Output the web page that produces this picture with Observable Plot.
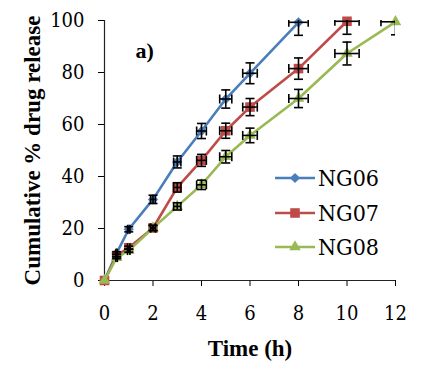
<!DOCTYPE html>
<html><head><meta charset="utf-8">
<script src="https://cdn.jsdelivr.net/npm/d3@7"></script>
<script src="https://cdn.jsdelivr.net/npm/@observablehq/plot@0.6"></script>
<style>
body{margin:0;background:#fff;}
#wrap{position:relative;width:425px;height:372px;font-family:"DejaVu Serif Condensed","DejaVu Serif",serif;}
#legend{position:absolute;left:275px;top:161px;}
.item{display:flex;align-items:center;height:34.5px;font-size:23px;color:#000;font-family:"DejaVu Serif Condensed","DejaVu Serif";}
.item svg{display:block;}
#wrap svg g[aria-label$="tick label"], #wrap svg g[aria-label$="tick label"] text,
#wrap svg g[aria-label="x-axis"] text, #wrap svg g[aria-label="y-axis"] text{
  font-family:"DejaVu Serif Condensed","DejaVu Serif",serif !important;
}
</style></head><body><div id="wrap"></div>
<script>
// ---- data ----
const times   = [0, 0.5, 1, 2, 3, 4, 5, 6, 8, 10, 12];
const timeErr = [0, 0.03, 0.05, 0.1, 0.15, 0.2, 0.25, 0.3, 0.4, 0.5, 0.6];
const seriesNames = ["NG06", "NG07", "NG08"];
const ng06 = [0, 10.5, 19.7, 31.2, 45.6, 57.5, 69.8, 79.7, 99.3];
const ng07 = [0, 9.6, 12.6, 20.2, 35.8, 46.2, 57.6, 66.7, 81.5, 99.7];
const ng08 = [0, 8.8, 11.5, 20.2, 28.5, 36.8, 47.6, 55.8, 70.0, 87.3, 99.5];
const ng06Err = [0, 0.5, 1.0, 1.6, 2.3, 2.9, 3.5, 4.0, 5.0];
const ng07Err = [0, 0.5, 0.6, 1.0, 1.8, 2.3, 2.9, 3.3, 4.1, 5.0];
const ng08Err = [0, 0.4, 0.6, 1.0, 1.4, 1.8, 2.4, 2.8, 3.5, 4.4, 5.0];
const xTicks = [0, 2, 4, 6, 8, 10, 12];
const yTicks = [0, 20, 40, 60, 80, 100];
const xTitle = "Time (h)";
const yTitle = "Cumulative % drug release";
const panelLabel = "a)";

// ---- styles ----
const FONT = '"DejaVu Serif Condensed","DejaVu Serif",serif';
const BOLDFONT = '"Liberation Serif",serif';
const colors = ["#4a7ebb", "#be4b48", "#98b954"];
const symbolNames = ["diamond2", "square", "triangle"];
const d3Symbols = [d3.symbolDiamond2, d3.symbolSquare, d3.symbolTriangle];
const markerR = [4.6, 5.4, 4.3];

const values = [ng06, ng07, ng08];
const errs = [ng06Err, ng07Err, ng08Err];
const rows = [];
seriesNames.forEach((s, k) => {
  values[k].forEach((v, i) => rows.push({series: s, k, t: times[i], te: timeErr[i], v, ve: errs[k][i]}));
});

const capH = {draw(ctx, size){ const w = Math.sqrt(size / Math.PI); ctx.moveTo(-w, 0); ctx.lineTo(w, 0); }};
const capV = {draw(ctx, size){ const w = Math.sqrt(size / Math.PI); ctx.moveTo(0, -w); ctx.lineTo(0, w); }};

const marks = [];
seriesNames.forEach((s, k) => {
  const d = rows.filter(r => r.k === k);
  marks.push(Plot.line(d, {x: "t", y: "v", stroke: colors[k], strokeWidth: 2.6}));
  marks.push(Plot.dot(d, {x: "t", y: "v", symbol: symbolNames[k], r: markerR[k], fill: colors[k], stroke: "none"}));
});
const eb = rows.filter(r => r.ve > 0);
const ebStyle = {stroke: "#000", strokeWidth: 1.6, clip: true};
marks.push(Plot.ruleX(eb, {x: "t", y1: d => d.v - d.ve, y2: d => d.v + d.ve, ...ebStyle}));
marks.push(Plot.ruleY(eb, {y: "v", x1: d => d.t - d.te, x2: d => d.t + d.te, ...ebStyle}));
marks.push(Plot.dot(eb, {x: "t", y: d => d.v - d.ve, symbol: capH, r: 4.5, fill: "none", ...ebStyle}));
marks.push(Plot.dot(eb, {x: "t", y: d => d.v + d.ve, symbol: capH, r: 4.5, fill: "none", ...ebStyle}));
marks.push(Plot.dot(eb, {x: d => d.t - d.te, y: "v", symbol: capV, r: 4.5, fill: "none", ...ebStyle}));
marks.push(Plot.dot(eb, {x: d => d.t + d.te, y: "v", symbol: capV, r: 4.5, fill: "none", ...ebStyle}));

const chart = Plot.plot({
  width: 425, height: 372,
  marginLeft: 104, marginRight: 30, marginTop: 20, marginBottom: 92,
  style: {fontFamily: FONT, fontSize: "20px", color: "#000", background: "transparent"},
  x: {domain: [0, 12], ticks: xTicks, tickSize: 6, tickPadding: 19, label: null},
  y: {domain: [0, 100], ticks: yTicks, tickSize: 6, tickPadding: 14, label: null},
  marks: [
    Plot.ruleX([0], {stroke: "#222", strokeWidth: 1.2}),
    Plot.ruleY([0], {stroke: "#222", strokeWidth: 1.2}),
    ...marks,
    Plot.text([panelLabel], {frameAnchor: "top-left", dx: 31, dy: 22, textAnchor: "start", fontSize: 22, fontWeight: "bold", fontFamily: BOLDFONT}),
    Plot.text([xTitle], {frameAnchor: "bottom", dy: 75, textAnchor: "middle", fontSize: 23, fontWeight: "bold", fontFamily: BOLDFONT}),
    Plot.text([yTitle], {frameAnchor: "left", dx: -72, rotate: -90, textAnchor: "middle", fontSize: 23, fontWeight: "bold", fontFamily: BOLDFONT})
  ]
});
const wrap = document.getElementById("wrap");
wrap.appendChild(chart);

// legend
const legend = d3.select(wrap).append("div").attr("id", "legend");
seriesNames.forEach((s, k) => {
  const it = legend.append("div").attr("class", "item");
  const svg = it.append("svg").attr("width", 43).attr("height", 34);
  svg.append("line").attr("x1", 0).attr("x2", 40).attr("y1", 17).attr("y2", 17).attr("stroke", colors[k]).attr("stroke-width", 2.6);
  svg.append("path").attr("transform", "translate(20,17)").attr("fill", colors[k])
    .attr("d", d3.symbol(d3Symbols[k], Math.PI * markerR[k] * markerR[k])());
  it.append("span").text(s);
});
</script></body></html>
